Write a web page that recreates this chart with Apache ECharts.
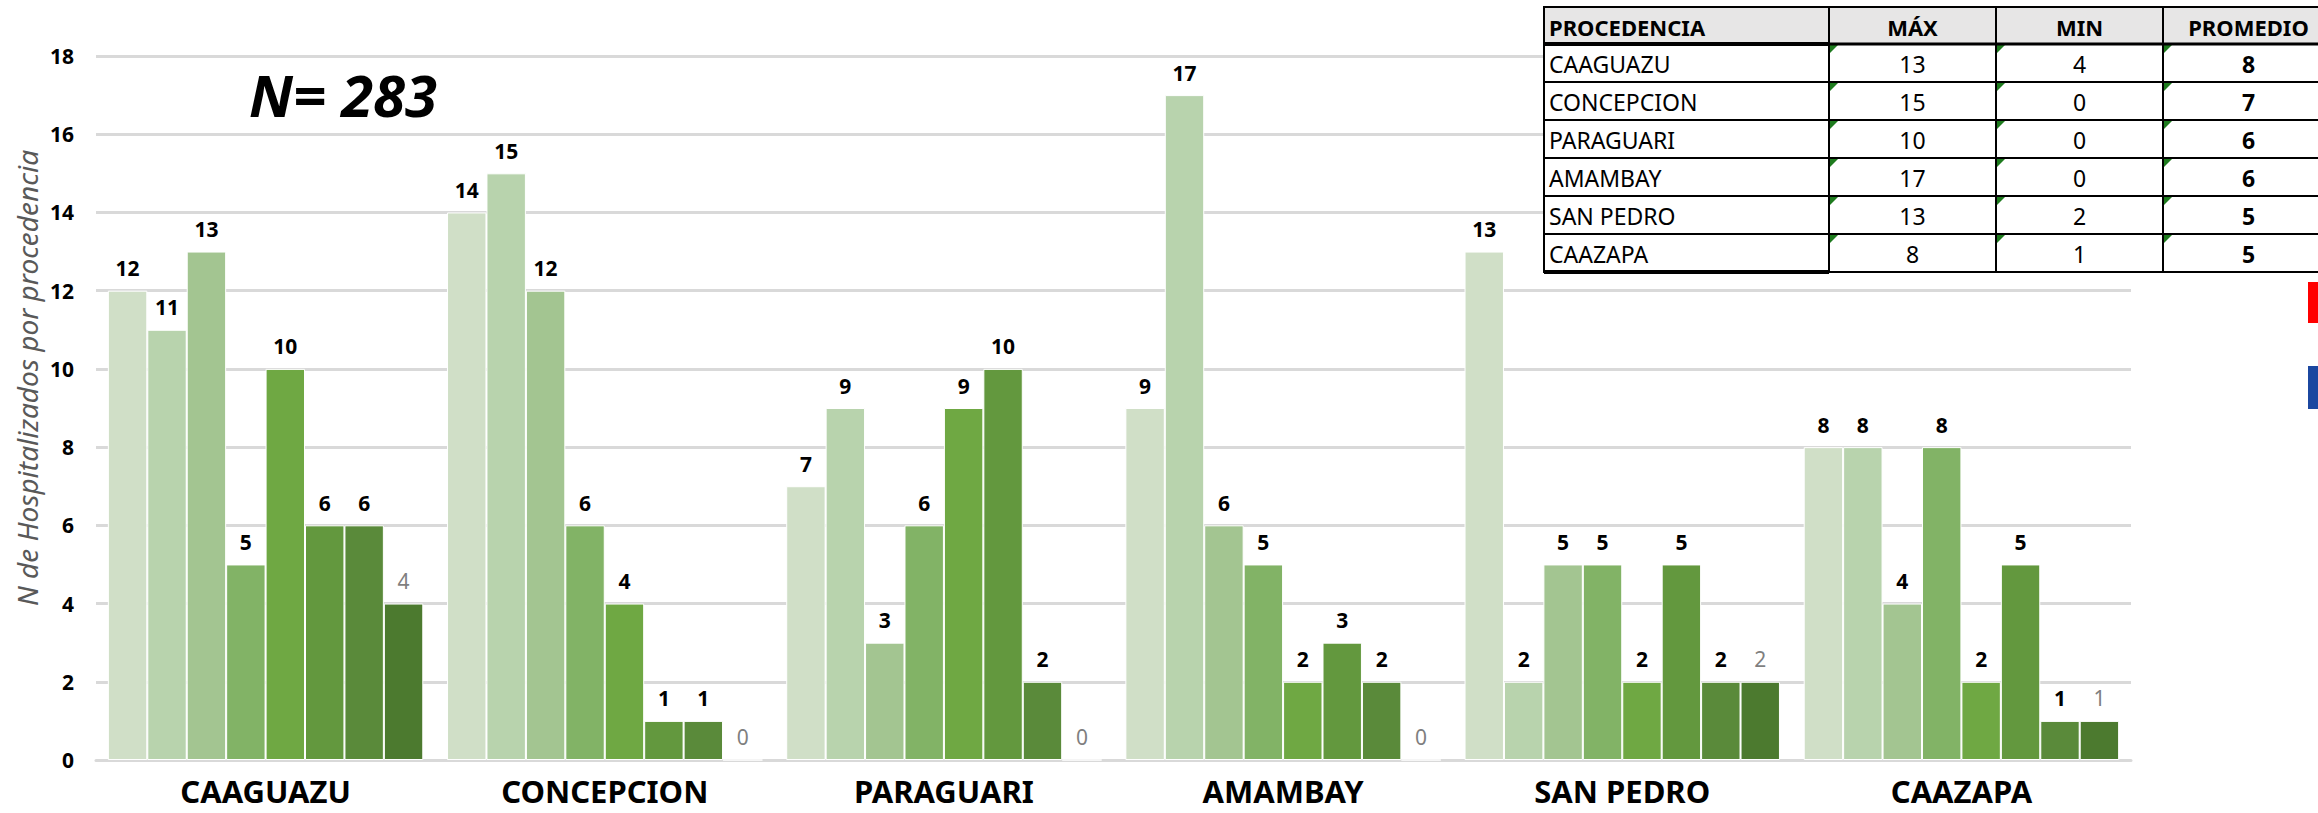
<!DOCTYPE html>
<html>
<head>
<meta charset="utf-8">
<script src="https://cdn.jsdelivr.net/npm/echarts@6/dist/echarts.min.js"></script>
<style>
html,body{margin:0;padding:0;background:#fff;}
#chart{width:2318px;height:813px;}
</style>
</head>
<body>
<div id="chart"></div>
<script>
// ---- data ----
const categories = ['CAAGUAZU', 'CONCEPCION', 'PARAGUARI', 'AMAMBAY', 'SAN PEDRO', 'CAAZAPA'];
const serie1 = [12, 14, 7, 9, 13, 8];
const serie2 = [11, 15, 9, 17, 2, 8];
const serie3 = [13, 12, 3, 6, 5, 4];
const serie4 = [5, 6, 6, 5, 5, 8];
const serie5 = [10, 4, 9, 2, 2, 2];
const serie6 = [6, 1, 10, 3, 5, 5];
const serie7 = [6, 1, 2, 2, 2, 1];
const serie8 = [4, 0, 0, 0, 2, 1];
const yTicks = [0, 2, 4, 6, 8, 10, 12, 14, 16, 18];
const tableHeader = ['PROCEDENCIA', 'MÁX', 'MIN', 'PROMEDIO'];
const tableNames = ['CAAGUAZU', 'CONCEPCION', 'PARAGUARI', 'AMAMBAY', 'SAN PEDRO', 'CAAZAPA'];
const tableMax = [13, 15, 10, 17, 13, 8];
const tableMin = [4, 0, 0, 0, 2, 1];
const tableAvg = [8, 7, 6, 6, 5, 5];
const nLabel = 'N= 283';
const yTitle = 'N de Hospitalizados por procedencia';

// ---- styles ----
const FONT = 'Noto Sans';
const colors = ['#D0DFC7', '#B8D3AD', '#A3C591', '#82B366', '#6FA843', '#63983E', '#5A8A3A', '#4C7A2F'];
const allSeries = [serie1, serie2, serie3, serie4, serie5, serie6, serie7, serie8];

const series = allSeries.map((d, i) => ({
  type: 'bar',
  name: 'S' + (i + 1),
  data: d,
  barGap: '0%',
  barCategoryGap: '7%',
  itemStyle: { color: colors[i], borderColor: '#ffffff', borderWidth: 1 },
  label: {
    show: true,
    position: 'top',
    distance: 12,
    fontFamily: FONT,
    fontSize: 21,
    fontWeight: i === 7 ? 'normal' : 'bold',
    color: i === 7 ? '#7F7F7F' : '#000000'
  },
  emphasis: { disabled: true }
}));

// ---- table graphic ----
const colX = [1544, 1829, 1996, 2163, 2334];
const rowY = [7, 44, 82, 120, 158, 196, 234, 272];
const g = [];
g.push({ type: 'rect', shape: { x: colX[0], y: rowY[0], width: colX[4] - colX[0], height: rowY[7] - rowY[0] },
  style: { fill: '#ffffff' }, z: 100 });
for (let c = 0; c < 4; c++) {
  g.push({ type: 'rect', shape: { x: colX[c], y: rowY[0], width: colX[c + 1] - colX[c], height: rowY[1] - rowY[0] },
    style: { fill: '#E7E6E6', stroke: '#000', lineWidth: 2 }, z: 101 });
  g.push({ type: 'text', z: 103, style: {
    text: tableHeader[c], x: c === 0 ? colX[0] + 5 : (colX[c] + colX[c + 1]) / 2, y: (rowY[0] + rowY[1]) / 2 + 1,
    align: c === 0 ? 'left' : 'center', verticalAlign: 'middle',
    font: 'bold 22px "' + FONT + '"', fill: '#000' } });
}
for (let r = 0; r < tableNames.length; r++) {
  const vals = [tableNames[r], tableMax[r], tableMin[r], tableAvg[r]];
  for (let c = 0; c < 4; c++) {
    g.push({ type: 'rect', shape: { x: colX[c], y: rowY[r + 1], width: colX[c + 1] - colX[c], height: rowY[r + 2] - rowY[r + 1] },
      style: { fill: '#ffffff', stroke: '#000', lineWidth: 2 }, z: 101 });
    if (c > 0) {
      g.push({ type: 'polygon', z: 104, shape: { points: [[colX[c] + 1, rowY[r + 1] + 1], [colX[c] + 9, rowY[r + 1] + 1], [colX[c] + 1, rowY[r + 1] + 9]] },
        style: { fill: '#1E7B1E' } });
    }
    g.push({ type: 'text', z: 103, style: {
      text: String(vals[c]), x: c === 0 ? colX[0] + 5 : (colX[c] + colX[c + 1]) / 2, y: (rowY[r + 1] + rowY[r + 2]) / 2 + 1,
      align: c === 0 ? 'left' : 'center', verticalAlign: 'middle',
      font: (c === 3 ? 'bold ' : '') + '23px "' + FONT + '"', fill: '#000' } });
  }
}
// thick lines under header and at bottom of first column
g.push({ type: 'line', z: 105, shape: { x1: colX[0], y1: rowY[1], x2: colX[1], y2: rowY[1] }, style: { stroke: '#000', lineWidth: 4 } });
g.push({ type: 'line', z: 105, shape: { x1: colX[1], y1: rowY[1], x2: colX[4], y2: rowY[1] }, style: { stroke: '#000', lineWidth: 3 } });
g.push({ type: 'line', z: 105, shape: { x1: colX[0], y1: rowY[7], x2: colX[1], y2: rowY[7] }, style: { stroke: '#000', lineWidth: 4 } });
// red / blue marks at right edge
g.push({ type: 'rect', z: 100, shape: { x: 2308, y: 282, width: 12, height: 41 }, style: { fill: '#FF0000' } });
g.push({ type: 'rect', z: 100, shape: { x: 2308, y: 366, width: 12, height: 43 }, style: { fill: '#1B47A0' } });
// N label
g.push({ type: 'text', z: 50, style: { text: nLabel, x: 343, y: 94, align: 'center', verticalAlign: 'middle',
  font: 'italic bold 58px "' + FONT + '"', fill: '#000' } });
// y axis title
g.push({ type: 'text', z: 50, x: 27, y: 378, rotation: Math.PI / 2, style: { text: yTitle, x: 0, y: 0,
  align: 'center', verticalAlign: 'middle', font: 'italic 28px "' + FONT + '"', fill: '#595959' } });

const chart = echarts.init(document.getElementById('chart'), null, { renderer: 'svg' });
chart.setOption({
  animation: false,
  backgroundColor: '#ffffff',
  grid: { left: 96, right: 187, top: 56, bottom: 53, containLabel: false },
  xAxis: {
    type: 'category',
    data: categories,
    axisTick: { show: false },
    axisLine: { show: true, lineStyle: { color: '#D9D9D9', width: 3 } },
    axisLabel: { margin: 15, fontFamily: FONT, fontSize: 31, fontWeight: 'bold', color: '#000' }
  },
  yAxis: {
    type: 'value',
    min: yTicks[0],
    max: yTicks[yTicks.length - 1],
    interval: 2,
    axisLine: { show: false },
    axisTick: { show: false },
    splitLine: { lineStyle: { color: '#D9D9D9', width: 3 } },
    axisLabel: { margin: 22, fontFamily: FONT, fontSize: 21, fontWeight: 'bold', color: '#000' }
  },
  series: series,
  graphic: g
});
</script>
</body>
</html>
